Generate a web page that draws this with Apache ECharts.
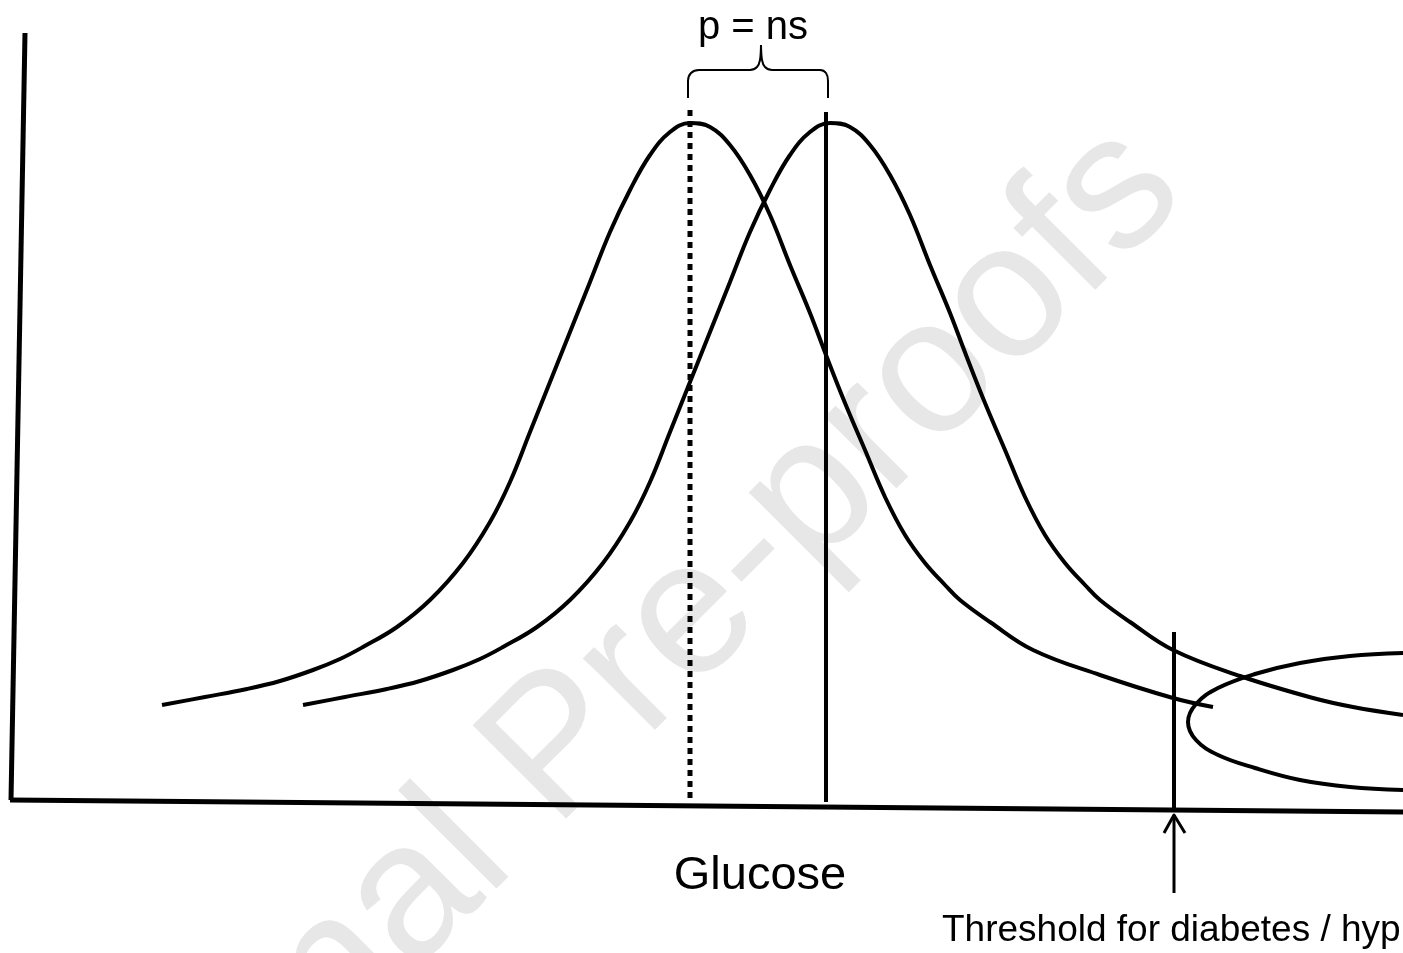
<!DOCTYPE html>
<html>
<head>
<meta charset="utf-8">
<script src="https://cdn.jsdelivr.net/npm/echarts@6/dist/echarts.min.js"></script>
<style>
html,body{margin:0;padding:0;background:#fff;}
#chart{width:1403px;height:953px;}
</style>
</head>
<body>
<div id="chart"></div>
<script>
// Schematic values (x = glucose scale, y = distance down from top of drawing, axis inverted)
var curveControl = [[162,705],[205,697],[247,689],[280,681],[313,670],[340,659],[363,647],[397,627],[430,600],[463,563],[490,522],[510,482],[530,432],[550,382],[570,332],[590,282],[610,232],[630,190],[650,155],[670,132],[690,123],[710,127],[730,145],[750,175],[770,215],[790,265],[810,313],[826,355],[845,403],[865,450],[885,497],[905,535],[925,563],[945,585],[960,600],[990,622],[1033,650],[1100,675],[1173,698],[1213,707]];
var curveCase = [[303,705],[345,697],[387,689],[420,681],[453,670],[480,659],[503,647],[537,627],[570,600],[603,563],[630,522],[650,482],[670,432],[690,382],[710,332],[730,282],[750,232],[770,190],[790,155],[810,132],[830,123],[850,127],[870,145],[890,175],[910,215],[930,265],[950,313],[966,355],[985,403],[1005,450],[1025,497],[1045,535],[1065,563],[1085,585],[1100,600],[1130,622],[1173,650],[1240,676],[1313,698],[1353,707],[1403,715]];
var ellipseHigh = [[1403,653],[1350,656],[1300,663],[1255,674],[1218,688],[1196,704],[1188,722],[1196,740],[1218,755],[1255,768],[1300,780],[1350,787],[1403,790]];
var meanControl = [[690,110],[690,800]];
var meanCase = [[826,112],[826,802]];
var threshold = [[1174,632],[1174,812]];
var yAxisLine = [[25,33],[11,800]];
var xAxisLine = [[10,800],[1403,812]];
var bracketLeft = [[688,98],[688,81],[691,73],[699,70],[750,70],[757,67],[760,60],[761,45]];
var bracketRight = [[761,45],[762,60],[765,67],[772,70],[820,70],[826,73],[828,81],[828,98]];
var arrowShaft = [[1174,893],[1174,815]];
var arrowHead = [[1164,833],[1174,815],[1185,833]];
var labels = {pValue: 'p = ns', xTitle: 'Glucose', threshold: 'Threshold for diabetes / hyp', watermark: 'Journal Pre-proofs'};

function ln(data, width, opts) {
  opts = opts || {};
  return {
    type: 'line', data: data, showSymbol: false, symbol: 'none', silent: true,
    smooth: opts.smooth || false, z: opts.z || 3,
    lineStyle: {color: '#000', width: width, type: opts.type || 'solid', cap: opts.cap || 'butt', join: 'round'}
  };
}

var chart = echarts.init(document.getElementById('chart'), null, {renderer: 'canvas'});
var font = '"Liberation Sans", Arial, sans-serif';
chart.setOption({
  animation: false,
  backgroundColor: '#fff',
  grid: {left: 0, right: 0, top: 0, bottom: 0},
  xAxis: {type: 'value', min: 0, max: 1403, show: false},
  yAxis: {type: 'value', min: 0, max: 953, inverse: true, show: false},
  graphic: [
    {type: 'text', x: 593, y: 717, rotation: Math.PI / 4, z: -10, silent: true,
     style: {text: labels.watermark, fill: '#e7e7e7', font: '192px ' + font, align: 'center', verticalAlign: 'middle'}},
    {type: 'text', x: 753, y: 28, z: 10, style: {text: labels.pValue, fill: '#000', font: '40px ' + font, align: 'center', verticalAlign: 'middle'}},
    {type: 'text', x: 760, y: 876, z: 10, style: {text: labels.xTitle, fill: '#000', font: '47px ' + font, align: 'center', verticalAlign: 'middle'}},
    {type: 'text', x: 942, y: 931, z: 10, style: {text: labels.threshold, fill: '#000', font: '37px ' + font, align: 'left', verticalAlign: 'middle'}}
  ],
  series: [
    ln(yAxisLine, 5),
    ln(xAxisLine, 5),
    ln(curveControl, 4, {smooth: 0.4}),
    ln(curveCase, 4, {smooth: 0.4}),
    ln(ellipseHigh, 4, {smooth: 0.4}),
    ln(meanControl, 5, {type: [6, 5]}),
    ln(meanCase, 4),
    ln(threshold, 4),
    ln(bracketLeft, 2, {smooth: 0.3}),
    ln(bracketRight, 2, {smooth: 0.3}),
    ln(arrowShaft, 3),
    ln(arrowHead, 3)
  ]
});
</script>
</body>
</html>
